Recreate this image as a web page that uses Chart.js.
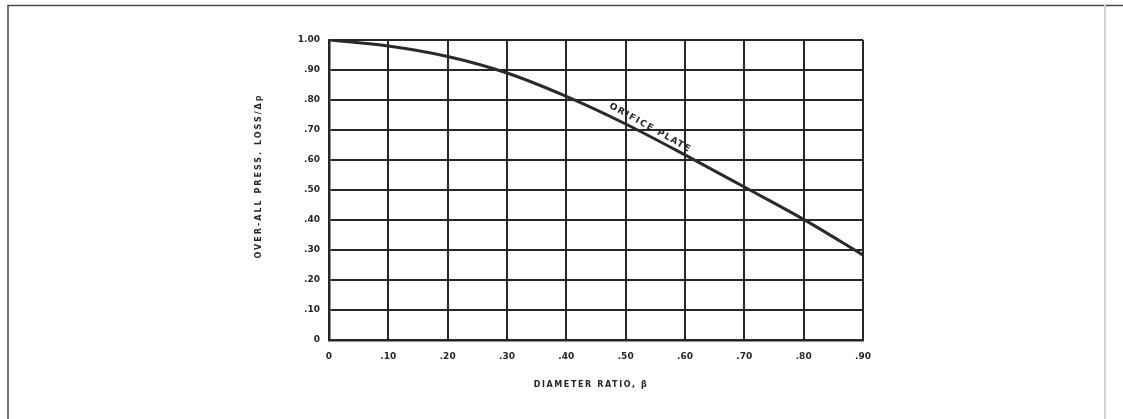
<!DOCTYPE html>
<html>
<head>
<meta charset="utf-8">
<script src="https://cdn.jsdelivr.net/npm/chart.js@4"></script>
<style>
  html, body { margin: 0; padding: 0; background: #fff; }
  #wrap { width: 1123px; height: 419px; }
</style>
</head>
<body>
<div id="wrap"><canvas id="c" width="1123" height="419"></canvas></div>
<script>
// ---- data ----
const diameterRatio = [0, 0.1, 0.2, 0.3, 0.4, 0.5, 0.6, 0.7, 0.8, 0.9];
const pressLossRatio = [1.00, 0.98, 0.945, 0.89, 0.812, 0.72, 0.617, 0.51, 0.402, 0.283];
const xTickLabels = ['0', '.10', '.20', '.30', '.40', '.50', '.60', '.70', '.80', '.90'];
const yTickLabels = ['0', '.10', '.20', '.30', '.40', '.50', '.60', '.70', '.80', '.90', '1.00'];
const xTitle = 'DIAMETER RATIO, \u03B2';
const yTitle = 'OVER-ALL PRESS. LOSS/\u0394p';
const curveLabel = 'ORIFICE PLATE';
const curveLabelAt = 0.535;

const ink = '#262626';
const tickFont = { family: 'DejaVu Sans', size: 9, weight: 'bold' };

const decor = {
  id: 'decor',
  beforeDraw(chart) {
    const ctx = chart.ctx;
    ctx.save();
    // outer figure frame
    ctx.strokeStyle = '#4a4a4a';
    ctx.lineWidth = 1.5;
    ctx.beginPath();
    ctx.moveTo(8, 419); ctx.lineTo(8, 5.5); ctx.lineTo(1123, 5.5);
    ctx.stroke();
    ctx.strokeStyle = '#d4d4d4';
    ctx.lineWidth = 2;
    ctx.beginPath();
    ctx.moveTo(1105, 5); ctx.lineTo(1105, 419);
    ctx.stroke();
    ctx.restore();
  },
  afterDraw(chart) {
    const ctx = chart.ctx;
    const a = chart.chartArea;
    const xs = chart.scales.x, ys = chart.scales.y;
    ctx.save();
    ctx.fillStyle = ink;
    ctx.font = 'bold 8px "DejaVu Sans"';
    ctx.textAlign = 'center';
    ctx.textBaseline = 'middle';
    // x title
    ctx.letterSpacing = '1.6px';
    ctx.fillText(xTitle, (a.left + a.right) / 2 - 5, 385);
    // y title
    ctx.save();
    ctx.translate(259, 176);
    ctx.rotate(-Math.PI / 2);
    ctx.letterSpacing = '2px';
    ctx.fillText(yTitle, 0, 0);
    ctx.restore();
    // curve label along the curve
    const i0 = 5, i1 = 6;
    const t = (curveLabelAt - diameterRatio[i0]) / (diameterRatio[i1] - diameterRatio[i0]);
    const yv = pressLossRatio[i0] + t * (pressLossRatio[i1] - pressLossRatio[i0]);
    const px = xs.getPixelForValue(curveLabelAt);
    const py = ys.getPixelForValue(yv);
    const dx = xs.getPixelForValue(diameterRatio[i1]) - xs.getPixelForValue(diameterRatio[i0 - 1]);
    const dy = ys.getPixelForValue(pressLossRatio[i1]) - ys.getPixelForValue(pressLossRatio[i0 - 1]);
    const ang = Math.atan2(dy, dx) + 0.05;
    ctx.translate(px, py);
    ctx.rotate(ang);
    ctx.letterSpacing = '1.4px';
    ctx.font = 'bold 9px "DejaVu Sans"';
    ctx.fillText(curveLabel, 0, -8);
    ctx.restore();
  }
};

new Chart(document.getElementById('c'), {
  type: 'line',
  data: {
    datasets: [{
      data: diameterRatio.map((x, i) => ({ x: x, y: pressLossRatio[i] })),
      borderColor: '#2a2a2a',
      borderWidth: 3,
      pointRadius: 0,
      cubicInterpolationMode: 'monotone',
      fill: false
    }]
  },
  options: {
    responsive: false,
    animation: false,
    layout: { padding: { left: 250, right: 260, top: 40, bottom: 19 } },
    plugins: { legend: { display: false }, tooltip: { enabled: false } },
    scales: {
      x: {
        type: 'linear', min: 0, max: 0.9,
        afterFit(s) { s.height = 60; },
        afterBuildTicks(s) { s.ticks = diameterRatio.map(v => ({ value: v })); },
        grid: { color: ink, lineWidth: 2, drawTicks: false },
        border: { display: true, color: ink, width: 2.5 },
        ticks: {
          padding: 11, color: ink, font: tickFont, maxRotation: 0, autoSkip: false,
          callback: (v, i) => xTickLabels[i]
        }
      },
      y: {
        type: 'linear', min: 0, max: 1,
        afterFit(s) { s.width = 79; },
        afterBuildTicks(s) { s.ticks = yTickLabels.map((_, i) => ({ value: i / 10 })); },
        grid: { color: ink, lineWidth: 2, drawTicks: false },
        border: { display: true, color: ink, width: 2.5 },
        ticks: {
          padding: 9, color: ink, font: tickFont, autoSkip: false,
          callback: (v, i) => yTickLabels[i]
        }
      }
    }
  },
  plugins: [decor]
});
</script>
</body>
</html>
